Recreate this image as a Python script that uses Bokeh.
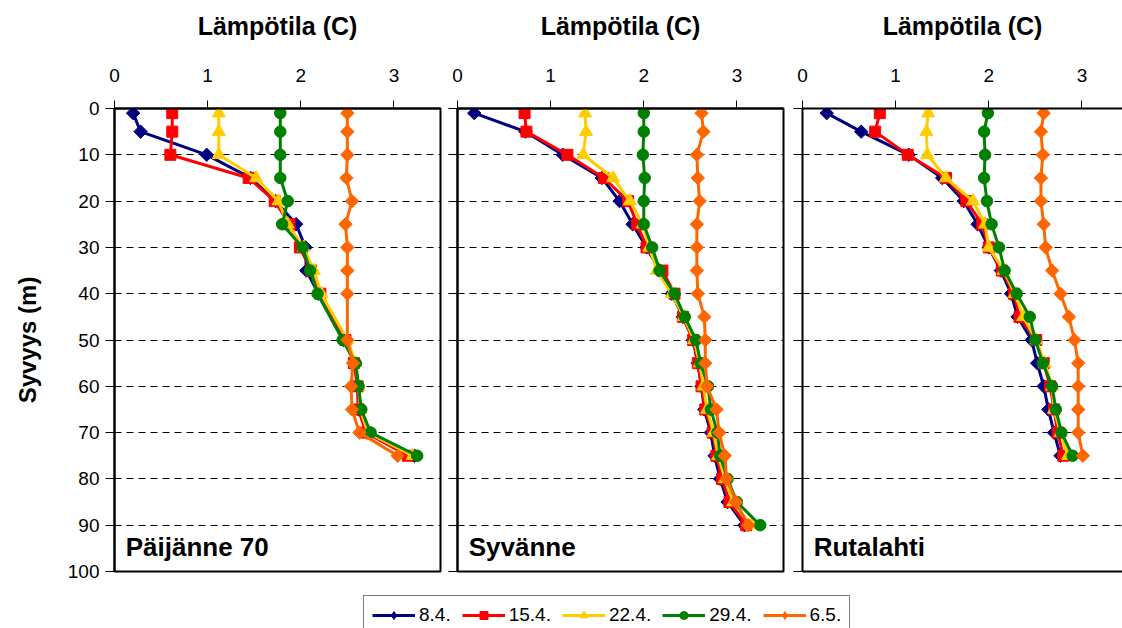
import math
from bokeh.plotting import figure
from bokeh.layouts import row, column
from bokeh.models import Range1d, FixedTicker, LinearAxis, Legend, LegendItem, Label
from bokeh.embed import file_html
from bokeh.resources import INLINE

FONT = "Liberation Sans"

# ---- data ----
series_labels = ["8.4.", "15.4.", "22.4.", "29.4.", "6.5."]
colors = ["#000080", "#FF0000", "#FFCC00", "#008000", "#FF6600"]
markers = ["square", "square", "triangle", "circle", "square"]
legend_markers = ["diamond", "square", "triangle", "circle", "diamond"]
mangles = [math.pi / 4, 0, 0, 0, math.pi / 4]
msizes = [9.5, 11, 13, 11.5, 9.5]

x_ticks = [0, 1, 2, 3]
y_ticks = [0, 10, 20, 30, 40, 50, 60, 70, 80, 90, 100]
grid_ticks = [10, 20, 30, 40, 50, 60, 70, 80, 90]

# Päijänne 70
depth_p1 = [1, 5, 10, 15, 20, 25, 30, 35, 40, 50, 55, 60, 65, 70, 75]
p1_0804 = [0.20, 0.28, 0.99, 1.46, 1.73, 1.95, 2.05, 2.06, 2.19, 2.46, 2.58, 2.61, 2.62, 2.71, 3.22]
p1_1504 = [0.62, 0.62, 0.60, 1.44, 1.72, 1.88, 1.99, 2.11, 2.21, 2.48, 2.57, 2.61, 2.62, 2.70, 3.15]
p1_2204 = [1.12, 1.12, 1.12, 1.52, 1.76, 1.86, 2.03, 2.14, 2.22, 2.50, 2.59, 2.62, 2.64, 2.72, 3.20]
p1_2904 = [1.78, 1.78, 1.78, 1.78, 1.86, 1.80, 2.02, 2.10, 2.18, 2.45, 2.59, 2.62, 2.65, 2.75, 3.25]
p1_0605 = [2.50, 2.50, 2.50, 2.49, 2.55, 2.48, 2.50, 2.50, 2.50, 2.50, 2.56, 2.54, 2.55, 2.63, 3.04]

# Syvänne
depth_p2 = [1, 5, 10, 15, 20, 25, 30, 35, 40, 45, 50, 55, 60, 65, 70, 75, 80, 85, 90]
p2_0804 = [0.18, 0.73, 1.13, 1.55, 1.74, 1.88, 2.03, 2.17, 2.30, 2.42, 2.53, 2.58, 2.62, 2.65, 2.72, 2.76, 2.82, 2.90, 3.08]
p2_1504 = [0.72, 0.74, 1.18, 1.57, 1.83, 1.93, 2.03, 2.20, 2.33, 2.42, 2.53, 2.58, 2.62, 2.66, 2.74, 2.78, 2.84, 2.92, 3.10]
p2_2204 = [1.37, 1.38, 1.35, 1.67, 1.85, 1.99, 2.06, 2.14, 2.30, 2.43, 2.54, 2.60, 2.64, 2.68, 2.75, 2.80, 2.87, 2.96, 3.15]
p2_2904 = [2.00, 2.00, 1.99, 2.01, 2.00, 2.00, 2.09, 2.17, 2.33, 2.44, 2.56, 2.61, 2.69, 2.72, 2.79, 2.82, 2.90, 3.00, 3.25]
p2_0605 = [2.62, 2.64, 2.57, 2.58, 2.60, 2.57, 2.57, 2.57, 2.58, 2.65, 2.66, 2.66, 2.68, 2.78, 2.81, 2.87, 2.89, 2.99, 3.12]

# Rutalahti
depth_p3 = [1, 5, 10, 15, 20, 25, 30, 35, 40, 45, 50, 55, 60, 65, 70, 75]
p3_0804 = [0.26, 0.63, 1.14, 1.50, 1.73, 1.88, 2.00, 2.13, 2.24, 2.31, 2.46, 2.52, 2.59, 2.64, 2.70, 2.77]
p3_1504 = [0.83, 0.78, 1.13, 1.54, 1.76, 1.93, 2.00, 2.14, 2.27, 2.33, 2.51, 2.59, 2.66, 2.70, 2.74, 2.80]
p3_2204 = [1.35, 1.33, 1.34, 1.54, 1.83, 1.96, 2.00, 2.16, 2.28, 2.37, 2.51, 2.60, 2.68, 2.70, 2.77, 2.85]
p3_2904 = [1.99, 1.95, 1.96, 1.95, 1.98, 2.03, 2.11, 2.17, 2.30, 2.44, 2.50, 2.58, 2.68, 2.72, 2.78, 2.90]
p3_0605 = [2.59, 2.56, 2.58, 2.56, 2.56, 2.59, 2.61, 2.68, 2.77, 2.86, 2.92, 2.96, 2.96, 2.96, 2.96, 3.01]

panels = [
    ("Päijänne 70", depth_p1, [p1_0804, p1_1504, p1_2204, p1_2904, p1_0605]),
    ("Syvänne", depth_p2, [p2_0804, p2_1504, p2_2204, p2_2904, p2_0605]),
    ("Rutalahti", depth_p3, [p3_0804, p3_1504, p3_2204, p3_2904, p3_0605]),
]

x_title = "Lämpötila (C)"
y_title = "Syvyys (m)"

PX_PER_UNIT = 326 / 3.5
ROW_H = 586


def make_panel(idx, name, depths, series, width, bl, br):
    frame_w = width - bl - br
    xend = frame_w / PX_PER_UNIT
    p = figure(width=width, height=ROW_H, x_range=Range1d(0, xend), y_range=Range1d(100, 0),
               x_axis_location="above", output_backend="svg", toolbar_location=None,
               min_border_left=bl, min_border_right=br, min_border_top=108,
               min_border_bottom=ROW_H - 571)
    p.background_fill_color = "white"
    p.border_fill_color = "white"
    if idx == 2:
        p.outline_line_color = None
        bax = LinearAxis(ticker=FixedTicker(ticks=[], minor_ticks=[]), major_tick_out=0, major_tick_in=0,
                         minor_tick_out=0, minor_tick_in=0,
                         axis_line_width=2, axis_line_color="black")
        p.add_layout(bax, "below")
    else:
        p.outline_line_color = "black"
        p.outline_line_width = 2

    xa = p.xaxis[0]
    xa.ticker = FixedTicker(ticks=x_ticks)
    xa.axis_label = x_title
    xa.axis_label_text_font = FONT
    xa.axis_label_text_font_style = "bold"
    xa.axis_label_text_font_size = "25px"
    xa.axis_label_text_color = "black"
    xa.axis_label_standoff = 26
    xa.major_label_text_font = FONT
    xa.major_label_text_font_size = "19px"
    xa.major_label_text_color = "black"
    xa.major_label_standoff = 19
    xa.major_tick_out = 8
    xa.major_tick_in = 0
    xa.minor_tick_out = 0
    xa.minor_tick_in = 0
    xa.axis_line_width = 2
    xa.major_tick_line_width = 1
    xa.major_tick_line_color = "black"

    ya = p.yaxis[0]
    ya.axis_line_width = 2
    ya.major_tick_in = 0
    ya.minor_tick_in = 0
    if idx == 0:
        ya.ticker = FixedTicker(ticks=y_ticks)
        ya.major_tick_out = 9
        ya.minor_tick_out = 0
        ya.major_tick_line_color = "black"
        ya.axis_label = y_title
        ya.axis_label_text_font = FONT
        ya.axis_label_text_font_style = "bold"
        ya.axis_label_text_font_size = "24px"
        ya.axis_label_text_color = "black"
        ya.axis_label_standoff = 24
        ya.major_label_text_font = FONT
        ya.major_label_text_font_size = "19px"
        ya.major_label_text_color = "black"
        ya.major_label_standoff = 6
    else:
        # ticks without labels: use minor ticks only
        ya.ticker = FixedTicker(ticks=[], minor_ticks=y_ticks)
        ya.major_tick_out = 0
        ya.minor_tick_out = 9
        ya.minor_tick_line_color = "black"
        ya.minor_tick_line_width = 1

    p.xgrid.visible = False
    p.ygrid.ticker = FixedTicker(ticks=grid_ticks)
    p.ygrid.grid_line_color = "black"
    p.ygrid.grid_line_dash = "7 5"
    p.ygrid.grid_line_width = 1

    for vals, c, m, s, a in zip(series, colors, markers, msizes, mangles):
        p.line(vals, depths, line_color=c, line_width=3)
        p.scatter(vals, depths, marker=m, size=s, angle=a, fill_color=c, line_color=c)

    p.add_layout(Label(x=0.12, y=94.8, text=name, text_font=FONT, text_font_style="bold",
                       text_font_size="26px", text_baseline="middle", text_color="black"))
    return p


p1 = make_panel(0, *panels[0], width=443, bl=114, br=3)
p2 = make_panel(1, *panels[1], width=343, bl=14, br=3)
p3 = make_panel(2, *panels[2], width=336, bl=16, br=0)

# legend figure
LEG_H = 628 - ROW_H
lf = figure(width=1122, height=LEG_H, x_range=Range1d(10, 11), y_range=Range1d(10, 11),
            output_backend="svg", toolbar_location=None,
            min_border_left=0, min_border_right=0, min_border_top=0, min_border_bottom=0)
lf.axis.visible = False
lf.grid.visible = False
lf.outline_line_color = None
items = []
for lab, vals, c, m in zip(series_labels, panels[0][2], colors, legend_markers):
    lr = lf.line(vals, panels[0][1], line_color=c, line_width=3)
    sr = lf.scatter(vals, panels[0][1], marker=m, size=10, fill_color=c, line_color=c)
    items.append(LegendItem(label=lab, renderers=[lr, sr]))
leg = Legend(items=items, orientation="horizontal", location=(363, -7),
             border_line_color="black", border_line_width=1, padding=8, spacing=11,
             glyph_width=43, glyph_height=20, label_standoff=4, margin=0,
             label_text_font=FONT, label_text_font_size="19px", label_text_color="black",
             background_fill_color="white", background_fill_alpha=1)
lf.add_layout(leg, "center")

layout = column(row(p1, p2, p3), lf)
open("out.html", "w").write(file_html(layout, INLINE))
